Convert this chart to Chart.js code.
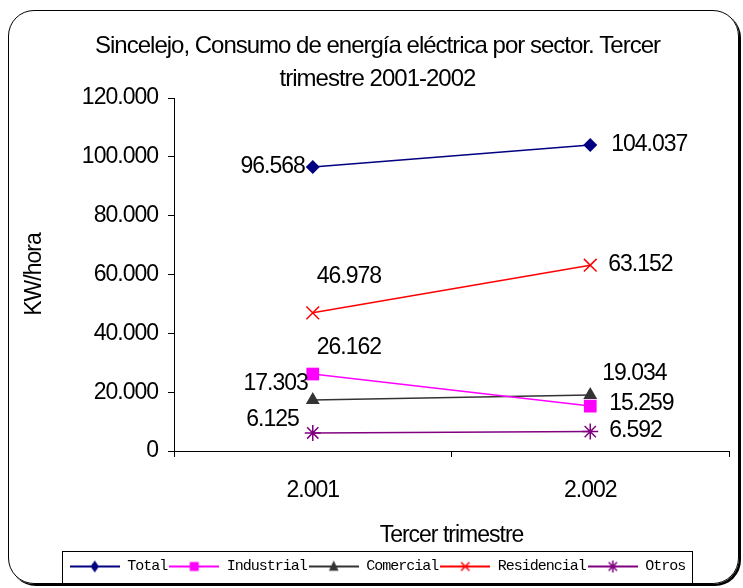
<!DOCTYPE html>
<html>
<head>
<meta charset="utf-8">
<script src="https://cdn.jsdelivr.net/npm/chart.js@4.4.0/dist/chart.umd.min.js"></script>
<style>
    html, body { margin: 0; padding: 0; background: #fff; }
    #wrap { position: relative; width: 743px; height: 588px; overflow: hidden; }
    #frame { position: absolute; left: 8px; top: 10px; width: 729px; height: 572px;
             border: 1px solid #000; border-radius: 26px; box-shadow: 2px 2px 0 #000; }
    canvas { position: absolute; left: 0; top: 0; }
</style>
</head>
<body>
<div id="wrap"><div id="frame"></div><canvas id="myChart" width="743" height="588"></canvas></div>
<script>
// data
var categories = ["2.001", "2.002"];
var seriesNames = ["Total", "Industrial", "Comercial", "Residencial", "Otros"];
var total = [96568, 104037];
var industrial = [26162, 15259];
var comercial = [17303, 19034];
var residencial = [46978, 63152];
var otros = [6125, 6592];
var yMax = 120000, yStep = 20000;

// styles
var colors = ["#000080", "#ff00ff", "#333333", "#ff0000", "#800080"];
var markers = ["rectRot", "rect", "triangle", "crossRot", "star"];
var radii = [7, 9, 8, 9, 8];
var sansFont = '"Liberation Sans", Arial, sans-serif';

// where each value label sits relative to its point [dx, dy, align]
var labelPlace = [
    [[-8, 0, "right"], [21, 0, "left"]],
    [[4, -26, "left"], [19, -2, "left"]],
    [[-5, -16, "right"], [12, -21, "left"]],
    [[4, -36, "left"], [18, -1, "left"]],
    [[-14, -13, "right"], [19, -1, "left"]]
];

function fmt(v) {
    return String(v).replace(/\B(?=(\d{3})+(?!\d))/g, ".");
}

//small icons for the legend: a line with the marker in the middle
function drawMarker(c, style, x, y, r, color) {
    c.fillStyle = color;
    c.strokeStyle = color;
    c.lineWidth = 1.5;
    c.beginPath();
    if (style === "rectRot") {
        c.moveTo(x, y - r); c.lineTo(x + r * 0.7, y); c.lineTo(x, y + r); c.lineTo(x - r * 0.7, y);
        c.closePath(); c.fill();
    } else if (style === "rect") {
        c.rect(x - r * 0.75, y - r * 0.75, r * 1.5, r * 1.5); c.fill();
    } else if (style === "triangle") {
        c.moveTo(x, y - r); c.lineTo(x + r * 0.8, y + r * 0.7); c.lineTo(x - r * 0.8, y + r * 0.7);
        c.closePath(); c.fill();
    } else if (style === "crossRot") {
        c.moveTo(x - r * 0.7, y - r * 0.7); c.lineTo(x + r * 0.7, y + r * 0.7);
        c.moveTo(x + r * 0.7, y - r * 0.7); c.lineTo(x - r * 0.7, y + r * 0.7);
        c.stroke();
    } else {
        c.moveTo(x - r * 0.7, y - r * 0.7); c.lineTo(x + r * 0.7, y + r * 0.7);
        c.moveTo(x + r * 0.7, y - r * 0.7); c.lineTo(x - r * 0.7, y + r * 0.7);
        c.moveTo(x, y - r); c.lineTo(x, y + r);
        c.stroke();
    }
}

var legendIcons = [];
for (var i = 0; i < seriesNames.length; i++) {
    var icon = document.createElement("canvas");
    icon.width = 50;
    icon.height = 16;
    var ic = icon.getContext("2d");
    ic.strokeStyle = colors[i];
    ic.lineWidth = 2;
    ic.beginPath();
    ic.moveTo(0, 8);
    ic.lineTo(50, 8);
    ic.stroke();
    drawMarker(ic, markers[i], 25, 8, 6, colors[i]);
    legendIcons.push(icon);
}

var seriesValues = [total, industrial, comercial, residencial, otros];
var datasets = [];
for (var i = 0; i < seriesNames.length; i++) {
    datasets.push({
        label: seriesNames[i],
        data: seriesValues[i],
        borderColor: colors[i],
        backgroundColor: colors[i],
        borderWidth: 1.5,
        pointStyle: markers[i],
        pointRadius: radii[i],
        pointBorderWidth: (markers[i] === "crossRot" || markers[i] === "star") ? 1.5 : 0,
        fill: false,
        tension: 0
    });
}

var spacing = {
    id: "spacing",
    beforeLayout: function (chart) { chart.ctx.letterSpacing = "-1px"; },
    beforeDraw: function (chart) { chart.ctx.letterSpacing = "-1px"; }
};

var valueLabels = {
    id: "valueLabels",
    afterDatasetsDraw: function (chart) {
        var ctx = chart.ctx;
        ctx.save();
        ctx.font = "23px " + sansFont;
        ctx.fillStyle = "#000";
        ctx.textBaseline = "middle";
        chart.data.datasets.forEach(function (ds, i) {
            var meta = chart.getDatasetMeta(i);
            meta.data.forEach(function (pt, j) {
                var p = labelPlace[i][j];
                ctx.textAlign = p[2];
                ctx.fillText(fmt(ds.data[j]), pt.x + p[0], pt.y + p[1]);
            });
        });
        ctx.restore();
    }
};

//box round the legend
var legendFrame = {
    id: "legendFrame",
    afterDraw: function (chart) {
        var boxes = chart.legend.legendHitBoxes;
        if (!boxes || !boxes.length) return;
        var l = boxes[0].left, r = boxes[boxes.length - 1].left + boxes[boxes.length - 1].width;
        var t = boxes[0].top, h = boxes[0].height;
        var ctx = chart.ctx;
        ctx.save();
        ctx.strokeStyle = "#000";
        ctx.lineWidth = 1;
        ctx.strokeRect(Math.round(l - 8) + 0.5, Math.round(t - 8) + 0.5, Math.round(r - l + 14), Math.round(h + 17));
        ctx.restore();
    }
};

var ctx1 = document.getElementById("myChart");
var myChart = new Chart(ctx1, {
    type: "line",
    data: {
        labels: categories,
        datasets: datasets
    },
    plugins: [spacing, valueLabels, legendFrame],
    options: {
        responsive: false,
        animation: false,
        layout: { padding: { left: 26, right: 14, top: 0, bottom: 4 } },
        plugins: {
            title: {
                display: true,
                text: ["Sincelejo, Consumo de energía eléctrica por sector. Tercer", "trimestre 2001-2002"],
                color: "#000",
                font: { family: sansFont, size: 24, weight: "normal", lineHeight: 1.375 },
                padding: { top: 30, bottom: 2 }
            },
            legend: {
                position: "bottom",
                labels: {
                    usePointStyle: true,
                    pointStyleWidth: 50,
                    padding: 2,
                    color: "#000",
                    font: { family: '"Liberation Mono", "Courier New", monospace', size: 15 },
                    generateLabels: function (chart) {
                        return chart.data.datasets.map(function (ds, i) {
                            return {
                                text: ds.label,
                                pointStyle: legendIcons[i],
                                fillStyle: colors[i],
                                strokeStyle: colors[i],
                                lineWidth: 1,
                                hidden: false,
                                datasetIndex: i,
                                fontColor: "#000"
                            };
                        });
                    }
                }
            },
            tooltip: { enabled: false }
        },
        scales: {
            x: {
                offset: true,
                grid: { offset: true, drawOnChartArea: false, color: "#000", tickLength: 6 },
                border: { color: "#000", width: 1 },
                ticks: { color: "#000", padding: 20, font: { family: sansFont, size: 23 } },
                title: {
                    display: true,
                    text: "Tercer trimestre",
                    color: "#000",
                    font: { family: sansFont, size: 23 },
                    padding: { top: 0, bottom: 8 }
                },
                afterFit: function (scale) { scale.height = 106; }
            },
            y: {
                min: 0,
                max: yMax,
                grid: { drawOnChartArea: false, color: "#000", tickLength: 6 },
                border: { color: "#000", width: 1 },
                ticks: {
                    stepSize: yStep,
                    color: "#000",
                    padding: 10,
                    font: { family: sansFont, size: 23 },
                    callback: function (v) { return fmt(v); }
                },
                title: {
                    display: true,
                    text: "KW/hora",
                    color: "#000",
                    font: { family: sansFont, size: 23 },
                    padding: { top: -5, bottom: 0 }
                },
                afterFit: function (scale) { scale.width = 148; }
            }
        }
    }
});
</script>
</body>
</html>
